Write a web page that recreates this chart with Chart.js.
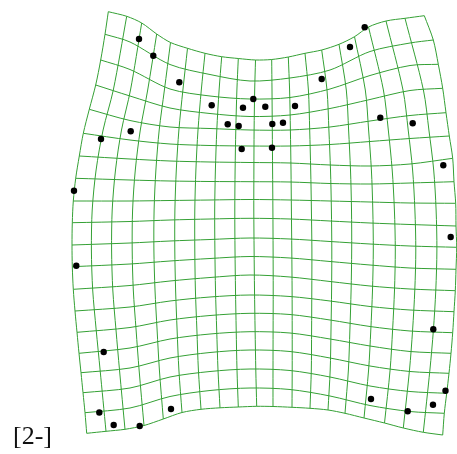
<!DOCTYPE html>
<html>
<head>
<meta charset="utf-8">
<script src="https://cdn.jsdelivr.net/npm/chart.js@4.4.1/dist/chart.umd.min.js"></script>
<style>
  html, body { margin: 0; padding: 0; background: #ffffff; }
  #wrap { position: relative; width: 457px; height: 454px; }
</style>
</head>
<body>
<div id="wrap"><canvas id="grid"></canvas></div>
<script>
// Landmark configuration (plot coordinates, y grows downward)
const dotX = [139, 153.3, 179.3, 211.7, 243, 253.3, 265.3, 295, 227.7, 238.7, 241.7, 272.3, 283, 272,
              321.7, 350, 364.7, 380.3, 412.7, 443.3, 450.7, 433.3, 445.5, 433, 407.7, 371,
              171, 139.7, 113.7, 99.3, 103.7, 76.3, 74, 101, 130.7];
const dotY = [39, 55.7, 82.3, 105.3, 107.7, 99, 106.7, 106, 124.3, 126, 149, 124, 122.7, 147.7,
              79, 47, 27.3, 117.7, 123.3, 165.3, 237, 329.3, 390.7, 404.7, 411.3, 399,
              409, 426, 425, 412.5, 352, 265.7, 190.7, 139, 131.3];

// Outline of the deformed grid: node positions along the four borders
const leftEdgeX   = [108.3,105,100.7,95.7,89.3,83.3,79.3,75.7,73.3,72.3,72,72.3,73.3,75,77,79,81,83,85,86.7];
const leftEdgeY   = [11.7,34.3,60,85,109.3,133.3,156,178.3,201,222.7,245,266.7,289.3,311,332.3,353.3,372.7,392.7,412.7,433.3];
const rightEdgeX  = [424.3,433.3,438.3,442.7,446,449.3,452.7,454,455.7,456,456.7,456,455.3,454,452.7,451,449,446.7,444.3,442.7];
const rightEdgeY  = [15.7,40,64.3,88.3,112.7,136,158.3,181.7,203.3,226,247.3,269.3,290.7,311.7,332.7,353.3,373.3,393.3,413.3,435];
const topEdgeX    = [108.3,126.7,141.7,156.7,170.5,187.5,205,221.7,238.3,255.5,271.7,288.3,305,321.7,339,354.5,368.5,386,405,424.3];
const topEdgeY    = [11.7,16.3,23,34,42.5,48.3,53.3,56.7,58.5,60,59.5,57,53.3,50,44.3,36.7,27,21,18.3,15.7];
const bottomEdgeX = [86.7,106,125,144,163.3,182,201,220,238.3,256.7,273,292,310,328,345,364,384.5,403.3,423.3,442.7];
const bottomEdgeY = [433.3,431.3,429.3,425.5,419,412.5,409.3,407.8,407,406.3,406.5,407.3,408.3,410,413.3,418,423,428,432.3,435];

// Inner horizontal lines (rows 1-18): height of each line at these x positions
const rowXLevels = [130, 170, 210, 250, 290, 330, 370, 410];
const rowY = [
  [42, 64.5, 74.5, 81, 78, 70, 51.5, 43],
  [69.5, 89, 96, 99, 97.5, 89, 75.5, 65.5],
  [96, 108, 113.5, 116.5, 115, 108.5, 99.5, 90.5],
  [120.5, 127, 128.5, 130, 130, 127, 121, 115.5],
  [140, 144, 145.5, 146, 146, 144.5, 141.5, 138.5],
  [159, 161, 162, 162.5, 163, 165, 166, 164],
  [180, 181, 181.5, 181.7, 182, 183.5, 184, 183],
  [201, 200.5, 200, 199.5, 200, 201, 202, 203],
  [221.5, 220, 219, 218.3, 219, 221, 223, 224.5],
  [243, 241, 239.5, 238, 239, 241.5, 244, 246],
  [264, 261, 258.5, 256.5, 258, 261.5, 265, 268],
  [285.5, 281, 277.5, 275, 277, 281.5, 286, 289],
  [307, 301, 297, 295, 296.5, 301, 306.5, 310],
  [327.5, 320, 315.5, 313.3, 314.5, 320, 326.5, 331],
  [348, 339, 334, 331.7, 333, 339, 346, 351.5],
  [368, 358, 352.5, 350, 351.5, 358, 366, 371.5],
  [388, 377, 371.5, 369, 370.5, 377, 386, 391.5],
  [408, 396.5, 390.5, 388, 389.5, 396, 405.5, 411.5]
];

// Inner vertical lines (columns 1-18): position of each line at these heights
const colYLevels = [90, 130, 170, 210, 250, 290, 330, 370];
const colX = [
  [113.3, 103.1, 96.1, 92.2, 91.4, 92.7, 96.2, 100.1],
  [130.5, 121.5, 115.5, 112.2, 111.6, 112.8, 116, 119.5],
  [147.7, 140.3, 135.3, 132.6, 132.2, 133.3, 136.1, 139.1],
  [164.4, 159.2, 155.9, 154.1, 153.9, 155, 157.1, 159.4],
  [182.9, 178.9, 176.3, 174.9, 174.8, 175.6, 177.1, 178.9],
  [201.3, 198, 195.9, 194.8, 194.8, 195.4, 196.9, 198.4],
  [219.1, 216.8, 215.4, 214.7, 214.9, 215.5, 216.7, 218],
  [236.9, 235.8, 235.1, 234.8, 235, 235.5, 236.2, 237],
  [254.7, 254.1, 253.9, 253.8, 254.1, 254.5, 255.1, 255.8],
  [272, 272.3, 272.6, 272.9, 273.1, 273.2, 273.1, 273],
  [289.6, 290.4, 291, 291.4, 291.8, 292.1, 292.2, 292.2],
  [308.4, 309.7, 310.7, 311.4, 311.9, 311.8, 311.6, 311.3],
  [327, 328.9, 330.5, 331.4, 331.8, 331.6, 331, 330.2],
  [346.3, 348.6, 350.5, 351.5, 351.7, 351.1, 349.9, 348.4],
  [365.3, 368.6, 371.4, 372.8, 373.3, 372.5, 370.8, 368.6],
  [383.4, 388.3, 392.2, 394.4, 395.3, 394.5, 392.6, 390.1],
  [403, 408.2, 412.6, 414.9, 415.8, 414.8, 412.6, 409.5],
  [423.4, 428.9, 433.7, 436.1, 436.9, 435.8, 433.4, 429.9]
];

const panelLabel = '[2-]';
const gridColor = 'rgb(52,160,52)';

function pts(xs, ys) { return xs.map((x, i) => ({ x: x, y: ys[i] })); }

function gridLine(data) {
  return {
    type: 'scatter', data: data, showLine: true, pointRadius: 0, pointHoverRadius: 0,
    borderColor: gridColor, borderWidth: 1, tension: 0.3, fill: false, order: 2
  };
}

const datasets = [];
// borders
datasets.push(gridLine(pts(topEdgeX, topEdgeY)));
datasets.push(gridLine(pts(bottomEdgeX, bottomEdgeY)));
datasets.push(gridLine(pts(leftEdgeX, leftEdgeY)));
datasets.push(gridLine(pts(rightEdgeX, rightEdgeY)));
// inner rows
rowY.forEach((ys, k) => {
  const r = k + 1;
  const d = [{ x: leftEdgeX[r], y: leftEdgeY[r] }]
    .concat(pts(rowXLevels, ys))
    .concat([{ x: rightEdgeX[r], y: rightEdgeY[r] }]);
  datasets.push(gridLine(d));
});
// inner columns
colX.forEach((xs, k) => {
  const c = k + 1;
  const d = [{ x: topEdgeX[c], y: topEdgeY[c] }]
    .concat(xs.map((x, i) => ({ x: x, y: colYLevels[i] })))
    .concat([{ x: bottomEdgeX[c], y: bottomEdgeY[c] }]);
  datasets.push(gridLine(d));
});
// landmarks
datasets.push({
  type: 'scatter', data: pts(dotX, dotY), showLine: false,
  pointRadius: 3.2, pointHoverRadius: 3.2, pointBackgroundColor: '#000000',
  pointBorderColor: '#000000', pointBorderWidth: 0, order: 1, clip: false
});

const labelPlugin = {
  id: 'panelLabel',
  afterDraw(chart) {
    const ctx = chart.ctx;
    const xs = chart.scales.x, ys = chart.scales.y;
    ctx.save();
    ctx.fillStyle = '#111111';
    ctx.font = "26px 'Liberation Serif', 'DejaVu Serif', serif";
    ctx.textBaseline = 'alphabetic';
    ctx.textAlign = 'left';
    ctx.fillText(panelLabel, xs.getPixelForValue(13), ys.getPixelForValue(443.5));
    ctx.restore();
  }
};

new Chart(document.getElementById('grid'), {
  type: 'scatter',
  data: { datasets: datasets },
  options: {
    responsive: true,
    maintainAspectRatio: false,
    animation: false,
    events: [],
    layout: { padding: 0, autoPadding: false },
    plugins: { legend: { display: false }, tooltip: { enabled: false } },
    scales: {
      x: { type: 'linear', min: 0, max: 457, display: false },
      y: { type: 'linear', min: 0, max: 454, reverse: true, display: false }
    }
  },
  plugins: [labelPlugin]
});
</script>
</body>
</html>
